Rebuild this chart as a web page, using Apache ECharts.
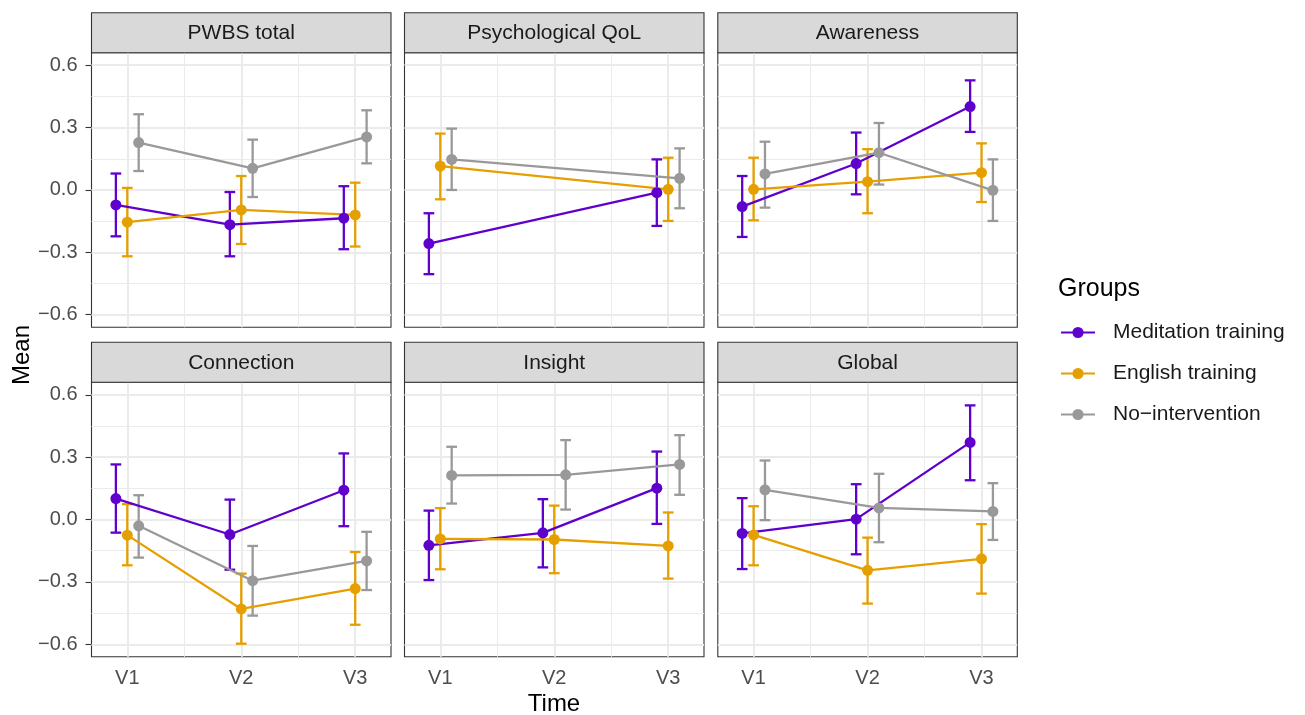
<!DOCTYPE html>
<html>
<head>
<meta charset="utf-8">
<script src="https://cdn.jsdelivr.net/npm/echarts@6/dist/echarts.min.js"></script>
<style>html,body{margin:0;padding:0;background:#fff}#c{width:1305px;height:715px}</style>
</head>
<body>
<div id="c"></div>
<script>
// ---- data ----
const panels = ['PWBS total', 'Psychological QoL', 'Awareness', 'Connection', 'Insight', 'Global'];
const times = ['V1', 'V2', 'V3'];
const groups = ['Meditation training', 'English training', 'No\u2212intervention'];
const yTicks = [-0.6, -0.3, 0, 0.3, 0.6];
const yMinor = [-0.45, -0.15, 0.15, 0.45];
const xTicks = [1, 2, 3];
const xMinor = [1.5, 2.5];

// rows = panels, columns = V1, V2, V3 (null = not measured)
const medMean = [
  [-0.072, -0.167, -0.136],
  [-0.258, null, -0.013],
  [-0.080, 0.127, 0.401],
  [0.101, -0.072, 0.141],
  [-0.124, -0.064, 0.151],
  [-0.067, 0.002, 0.371]
];
const medLow = [
  [-0.223, -0.319, -0.285],
  [-0.405, null, -0.173],
  [-0.226, -0.021, 0.279],
  [-0.063, -0.241, -0.032],
  [-0.291, -0.230, -0.021],
  [-0.238, -0.167, 0.189]
];
const medHigh = [
  [0.079, -0.010, 0.018],
  [-0.112, null, 0.147],
  [0.067, 0.276, 0.527],
  [0.265, 0.096, 0.318],
  [0.043, 0.098, 0.327],
  [0.103, 0.170, 0.549]
];
const engMean = [
  [-0.155, -0.096, -0.120],
  [0.115, null, 0.003],
  [0.003, 0.040, 0.083],
  [-0.075, -0.430, -0.332],
  [-0.093, -0.096, -0.127],
  [-0.074, -0.244, -0.189]
];
const engLow = [
  [-0.319, -0.260, -0.272],
  [-0.045, null, -0.149],
  [-0.146, -0.112, -0.058],
  [-0.220, -0.597, -0.506],
  [-0.239, -0.258, -0.284],
  [-0.220, -0.404, -0.356]
];
const engHigh = [
  [0.010, 0.067, 0.035],
  [0.271, null, 0.155],
  [0.155, 0.196, 0.224],
  [0.074, -0.260, -0.156],
  [0.055, 0.067, 0.034],
  [0.064, -0.087, -0.022]
];
const noMean = [
  [0.228, 0.104, 0.255],
  [0.147, null, 0.056],
  [0.077, 0.179, -0.002],
  [-0.030, -0.294, -0.199],
  [0.212, 0.215, 0.265],
  [0.143, 0.056, 0.039]
];
const noLow = [
  [0.091, -0.034, 0.128],
  [0.000, null, -0.088],
  [-0.085, 0.026, -0.149],
  [-0.183, -0.462, -0.339],
  [0.077, 0.048, 0.119],
  [-0.003, -0.109, -0.098]
];
const noHigh = [
  [0.364, 0.242, 0.383],
  [0.295, null, 0.200],
  [0.232, 0.322, 0.147],
  [0.117, -0.127, -0.059],
  [0.350, 0.382, 0.406],
  [0.284, 0.220, 0.175]
];

// ---- style / layout ----
const colors = ['#5F00CC', '#E69F00', '#999999'];
const dodge = [-0.1, 0, 0.1];
const capHalf = 0.047;
const xLim = [0.686, 3.314];
const yLim = [-0.66, 0.66];
const FONT = '"Liberation Sans", Arial, Helvetica, sans-serif';
const colLeft = [91.5, 404.5, 717.8];
const panelW = 299.5;
const rowTop = [52.7, 382.3];
const panelH = 274.5;
const stripH = 40;

const groupData = [
  [medMean, medLow, medHigh],
  [engMean, engLow, engHigh],
  [noMean, noLow, noHigh]
];

const fmtNum = v => { const s = Math.abs(v) < 1e-9 ? '0.0' : v.toFixed(1); return s.replace('-', '\u2212'); };

const grids = [], xAxes = [], yAxes = [], series = [], graphics = [];

panels.forEach((name, p) => {
  const r = Math.floor(p / 3), c = p % 3;
  grids.push({
    left: colLeft[c], top: rowTop[r], width: panelW, height: panelH,
    show: true, backgroundColor: '#fff', borderColor: '#333333', borderWidth: 1.1
  });
  xAxes.push({
    gridIndex: p, type: 'value', min: xLim[0], max: xLim[1],
    splitLine: { show: false }, axisLine: { show: false },
    axisTick: { show: r === 1, customValues: xTicks, length: 6, lineStyle: { color: '#333333', width: 1.1 } },
    axisLabel: { show: r === 1, customValues: xTicks, formatter: v => times[Math.round(v) - 1],
      color: '#4D4D4D', fontSize: 20, fontFamily: FONT, margin: 12 }
  });
  yAxes.push({
    gridIndex: p, type: 'value', min: yLim[0], max: yLim[1],
    splitLine: { show: false }, axisLine: { show: false },
    axisTick: { show: c === 0, customValues: yTicks, length: 6, lineStyle: { color: '#333333', width: 1.1 } },
    axisLabel: { show: c === 0, customValues: yTicks, formatter: fmtNum,
      color: '#4D4D4D', fontSize: 20, fontFamily: FONT, margin: 14 }
  });
  // background grid lines
  const ml = [];
  yMinor.forEach(v => ml.push({ yAxis: v, lineStyle: { color: '#EBEBEB', width: 1, type: 'solid' } }));
  xMinor.forEach(v => ml.push({ xAxis: v, lineStyle: { color: '#EBEBEB', width: 1, type: 'solid' } }));
  yTicks.forEach(v => ml.push({ yAxis: v, lineStyle: { color: '#EBEBEB', width: 2, type: 'solid' } }));
  xTicks.forEach(v => ml.push({ xAxis: v, lineStyle: { color: '#EBEBEB', width: 2, type: 'solid' } }));
  series.push({
    name: 'bg' + p, type: 'line', xAxisIndex: p, yAxisIndex: p, data: [], silent: true, z: 1,
    markLine: { silent: true, z: 1, symbol: ['none', 'none'], label: { show: false }, animation: false, data: ml }
  });
  // error bars
  groupData.forEach((g, gi) => {
    const [mean, lo, hi] = g;
    const eb = [];
    for (let t = 0; t < 3; t++) {
      if (mean[p][t] === null) continue;
      eb.push([t + 1 + dodge[gi], lo[p][t], hi[p][t]]);
    }
    series.push({
      name: 'err ' + groups[gi], type: 'custom', xAxisIndex: p, yAxisIndex: p, data: eb, z: 3, silent: true,
      itemStyle: { color: colors[gi] },
      encode: { x: 0, y: [1, 2] },
      renderItem: (params, api) => {
        const x = api.value(0), l = api.value(1), h = api.value(2);
        const pt = api.coord([x, h]), pb = api.coord([x, l]);
        const w = api.coord([x + capHalf, h])[0] - pt[0];
        const st = { stroke: colors[gi], lineWidth: 2.3 };
        return { type: 'group', children: [
          { type: 'line', shape: { x1: pt[0], y1: pt[1], x2: pb[0], y2: pb[1] }, style: st },
          { type: 'line', shape: { x1: pt[0] - w, y1: pt[1], x2: pt[0] + w, y2: pt[1] }, style: st },
          { type: 'line', shape: { x1: pb[0] - w, y1: pb[1], x2: pb[0] + w, y2: pb[1] }, style: st }
        ] };
      }
    });
  });
  groupData.forEach((g, gi) => {
    const mean = g[0];
    const d = [];
    for (let t = 0; t < 3; t++) {
      if (mean[p][t] === null) continue;
      d.push([t + 1 + dodge[gi], mean[p][t]]);
    }
    series.push({
      name: groups[gi], type: 'line', xAxisIndex: p, yAxisIndex: p, data: d, z: 4,
      symbol: 'circle', symbolSize: 11, showSymbol: true,
      lineStyle: { color: colors[gi], width: 2.3 }, itemStyle: { color: colors[gi] },
      emphasis: { disabled: true }, animation: false
    });
  });
  // strip
  graphics.push({
    type: 'rect', shape: { x: colLeft[c], y: rowTop[r] - stripH, width: panelW, height: stripH },
    style: { fill: '#D9D9D9', stroke: '#333333', lineWidth: 1.1 }, z: 10
  });
  graphics.push({
    type: 'text', x: colLeft[c] + panelW / 2, y: rowTop[r] - stripH / 2 + 1,
    style: { text: name, fill: '#1A1A1A', font: '21px ' + FONT, textAlign: 'center', textVerticalAlign: 'middle' }, z: 11
  });
});

graphics.push({ type: 'text', x: 554, y: 704, style: { text: 'Time', fill: '#000', font: '24px ' + FONT, textAlign: 'center', textVerticalAlign: 'middle' } });
graphics.push({ type: 'text', x: 22, y: 355, rotation: Math.PI / 2, style: { text: 'Mean', fill: '#000', font: '24px ' + FONT, textAlign: 'center', textVerticalAlign: 'middle' } });
graphics.push({ type: 'text', x: 1058, y: 289, style: { text: 'Groups', fill: '#000', font: '25px ' + FONT, textAlign: 'left', textVerticalAlign: 'middle' } });

const chart = echarts.init(document.getElementById('c'), null, { renderer: 'canvas' });
chart.setOption({
  animation: false,
  backgroundColor: '#fff',
  grid: grids, xAxis: xAxes, yAxis: yAxes, series: series,
  legend: {
    data: groups, orient: 'vertical', left: 1060, top: 322, padding: 0,
    itemWidth: 34, itemHeight: 14, itemGap: 20,
    textStyle: { fontSize: 21, color: '#1A1A1A', fontFamily: FONT, padding: [0, 0, 0, 13] },
    selectedMode: false
  },
  graphic: graphics
});
</script>
</body>
</html>
